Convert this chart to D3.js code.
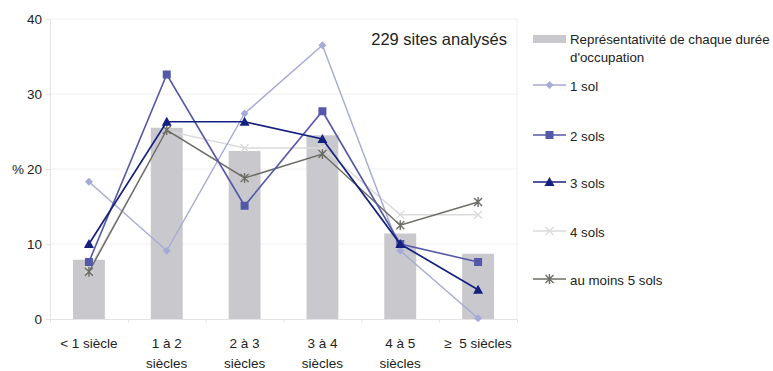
<!DOCTYPE html>
<html><head><meta charset="utf-8">
<script src="https://cdn.jsdelivr.net/npm/d3@7"></script>
<style>body{margin:0;background:#fff}svg{display:block}text{font-family:"Liberation Sans",Arial,sans-serif;fill:#222}</style>
</head><body><svg id="c" width="773" height="371"></svg>
<script>
const categories = ["< 1 siècle","1 à 2|siècles","2 à 3|siècles","3 à 4|siècles","4 à 5|siècles","≥\u00a0 5 siècles"];
const barValues = [7.9, 25.5, 22.4, 24.5, 11.4, 8.7];
const sol1 = [18.3, 9.1, 27.4, 36.5, 9.1, 0.1];
const sol2 = [7.6, 32.6, 15.1, 27.7, 10.0, 7.6];
const sol3 = [10.0, 26.3, 26.3, 24.0, 10.0, 3.9];
const sol4 = [6.6, 25.1, 22.8, 22.8, 13.9, 13.9];
const sol5 = [6.3, 25.2, 18.8, 22.0, 12.5, 15.6];
const yTicks = [0, 10, 20, 30, 40];
const barLabel = "Représentativité de chaque durée|d'occupation";
const seriesNames = ["1 sol","2 sols","3 sols","4 sols","au moins 5 sols"];
const annotation = "229 sites analysés";

const series = [
  {name: seriesNames[0], values: sol1, color: "#a6aad6", marker: "diamond", w: 1.4},
  {name: seriesNames[1], values: sol2, color: "#5458a8", marker: "square", w: 1.6},
  {name: seriesNames[2], values: sol3, color: "#142080", marker: "triangle", w: 1.7},
  {name: seriesNames[3], values: sol4, color: "#dadada", marker: "x", w: 1.4},
  {name: seriesNames[4], values: sol5, color: "#6b6e66", marker: "star", w: 1.5}
];

const svg = d3.select("#c");
const L = 50, R = 517, T = 19, B = 319;
const x = d3.scaleBand().domain(d3.range(categories.length)).range([L, R]).paddingInner(0).paddingOuter(0);
const y = d3.scaleLinear().domain([0, 40]).range([B, T]);
const cx = i => x(i) + x.bandwidth() / 2;

// grid
svg.append("g").selectAll("line").data(yTicks.slice(1)).join("line")
  .attr("x1", L).attr("x2", R).attr("y1", d => y(d)).attr("y2", d => y(d))
  .attr("stroke", "#f0f0f0").attr("stroke-width", 1);
svg.append("line").attr("x1", R).attr("x2", R).attr("y1", T).attr("y2", B).attr("stroke", "#eeeeee");

// bars
const bw = x.bandwidth() * 0.41;
svg.append("g").selectAll("rect").data(barValues).join("rect")
  .attr("x", (d, i) => cx(i) - bw / 2).attr("width", bw)
  .attr("y", d => y(d)).attr("height", d => B - y(d))
  .attr("fill", "#c9c9cd");

// axes
const yAxis = d3.axisLeft(y).tickValues(yTicks).tickSize(4).tickFormat(d3.format("d"));
const ga = svg.append("g").attr("transform", `translate(${L},0)`).call(yAxis);
ga.select(".domain").attr("stroke", "#e4e4e4");
ga.selectAll(".tick line").attr("stroke", "#e4e4e4");
ga.selectAll("text").attr("font-size", 13.5).attr("x", -8).style("font-family", '"Liberation Sans",Arial,sans-serif').attr("fill", "#222");
svg.append("text").attr("x", 12).attr("y", y(20) + 5).attr("font-size", 13.5).text("%");

const xb = d3.scaleLinear().domain([0, categories.length]).range([L, R]);
const gx = svg.append("g").attr("transform", `translate(0,${B})`)
  .call(d3.axisBottom(xb).tickValues(d3.range(categories.length + 1)).tickSize(4).tickFormat(""));
gx.select(".domain").attr("stroke", "#e4e4e4");
gx.selectAll(".tick line").attr("stroke", "#e4e4e4");

const xl = svg.append("g");
categories.forEach((c, i) => {
  const parts = c.split("|");
  const t = xl.append("text").attr("x", cx(i)).attr("y", 348).attr("text-anchor", "middle").attr("font-size", 13.5);
  parts.forEach((p, k) => t.append("tspan").attr("x", cx(i)).attr("dy", k ? 20 : 0).text(p));
});

// markers
function drawMarker(g, type, px, py, color) {
  if (type === "diamond") {
    g.append("path").attr("d", `M${px},${py-4}L${px+4},${py}L${px},${py+4}L${px-4},${py}Z`).attr("fill", color);
  } else if (type === "square") {
    g.append("rect").attr("x", px - 4).attr("y", py - 4).attr("width", 8).attr("height", 8).attr("fill", color);
  } else if (type === "triangle") {
    g.append("path").attr("d", `M${px},${py-5}L${px+5},${py+4}L${px-5},${py+4}Z`).attr("fill", color);
  } else if (type === "x") {
    g.append("path").attr("d", `M${px-4},${py-4}L${px+4},${py+4}M${px-4},${py+4}L${px+4},${py-4}`).attr("stroke", color).attr("stroke-width", 1.3);
  } else if (type === "star") {
    g.append("path").attr("d", `M${px-4},${py-4}L${px+4},${py+4}M${px-4},${py+4}L${px+4},${py-4}M${px},${py-5}L${px},${py+5}`).attr("stroke", color).attr("stroke-width", 1.4);
  }
}

const line = d3.line().x((d, i) => cx(i)).y(d => y(d));
const order = [3, 0, 4, 1, 2];
order.forEach(si => {
  const s = series[si];
  const g = svg.append("g");
  g.append("path").attr("d", line(s.values)).attr("fill", "none").attr("stroke", s.color).attr("stroke-width", s.w);
  s.values.forEach((v, i) => drawMarker(g, s.marker, cx(i), y(v), s.color));
});

// annotation
svg.append("text").attr("x", 507).attr("y", 45).attr("text-anchor", "end").attr("font-size", 16.5).text(annotation);

// legend
const lg = svg.append("g");
lg.append("rect").attr("x", 533).attr("y", 35).attr("width", 33).attr("height", 8).attr("fill", "#c9c9cd");
const bl = barLabel.split("|");
const tb = lg.append("text").attr("x", 570).attr("y", 44).attr("font-size", 13.3);
bl.forEach((p, k) => tb.append("tspan").attr("x", 570).attr("dy", k ? 18 : 0).text(p));
const ly = [85, 135, 182, 231, 279];
series.forEach((s, i) => {
  const yy = ly[i];
  lg.append("line").attr("x1", 533).attr("x2", 566).attr("y1", yy).attr("y2", yy).attr("stroke", s.color).attr("stroke-width", s.w);
  drawMarker(lg, s.marker, 549.5, yy, s.color);
  lg.append("text").attr("x", 570).attr("y", yy + 6).attr("font-size", 13.3).text(s.name);
});
</script></body></html>
